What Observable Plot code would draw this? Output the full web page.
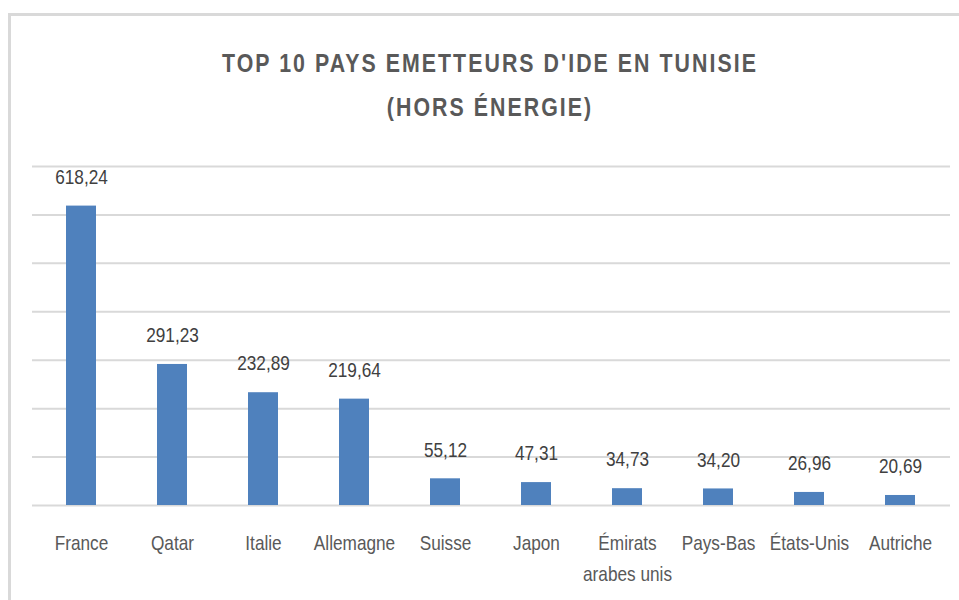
<!DOCTYPE html>
<html>
<head>
<meta charset="utf-8">
<script src="https://cdn.jsdelivr.net/npm/d3@7"></script>
<script src="https://cdn.jsdelivr.net/npm/@observablehq/plot@0.6"></script>
<style>
  html, body { margin: 0; padding: 0; background: #fff; }
  body { width: 959px; height: 600px; overflow: hidden; position: relative;
         font-family: "Liberation Sans", Arial, sans-serif; }
  #frame { position: absolute; left: 8px; top: 13px; width: 1000px; height: 700px;
           border: 3px solid #d9d9d9; box-sizing: border-box; }
  #title { position: absolute; left: 0; top: 41px; width: 980px; text-align: center;
           font-size: 26px; line-height: 44px; letter-spacing: 2.5px; color: #595959; font-weight: bold;
           transform: scaleX(0.82); transform-origin: 490px 0; }
  #chart { position: absolute; left: 0; top: 140px; }
</style>
</head>
<body>
<div id="frame"></div>
<div id="title">TOP 10 PAYS EMETTEURS D'IDE EN TUNISIE<br>(HORS ÉNERGIE)</div>
<div id="chart"></div>
<script>
const countries = ["France", "Qatar", "Italie", "Allemagne", "Suisse", "Japon", "Émirats arabes unis", "Pays-Bas", "États-Unis", "Autriche"];
const values = [618.24, 291.23, 232.89, 219.64, 55.12, 47.31, 34.73, 34.20, 26.96, 20.69];
const gridTicks = [0, 100, 200, 300, 400, 500, 600, 700];

const data = countries.map((c, i) => ({country: c, value: values[i]}));
const fr = d3.formatLocale({decimal: ",", thousands: " ", grouping: [3], currency: ["", " €"]});
const fmt = fr.format(".2f");

const chart = Plot.plot({
  width: 959,
  height: 460,
  marginTop: 26,
  marginBottom: 95,
  marginLeft: 32,
  marginRight: 9,
  style: {fontFamily: '"Liberation Sans", Arial, sans-serif', background: "transparent"},
  x: {domain: countries, paddingInner: 0.67, paddingOuter: 0.335, axis: null},
  y: {domain: [0, 700], axis: null},
  marks: [
    Plot.gridY(gridTicks, {stroke: "#d9d9d9", strokeOpacity: 1, strokeWidth: 2}),
    Plot.barY(data, {x: "country", y: "value", fill: "#4f81bd"}),
    Plot.text(data, {x: "country", y: "value", text: d => fmt(d.value), dy: -29, fontSize: 21, fill: "#404040"}),
    Plot.axisX({
      tickSize: 0, tickPadding: 22, fontSize: 21, fill: "#595959", lineHeight: 1.5, label: null,
      tickFormat: d => d === "Émirats arabes unis" ? "Émirats\narabes unis" : d
    })
  ]
});
// narrow the lettering horizontally (condensed look of the original)
chart.querySelectorAll("text").forEach(t => {
  const tr = t.getAttribute("transform");
  if (tr) t.setAttribute("transform", tr + " scale(0.82,1)");
});
document.getElementById("chart").appendChild(chart);
</script>
</body>
</html>
